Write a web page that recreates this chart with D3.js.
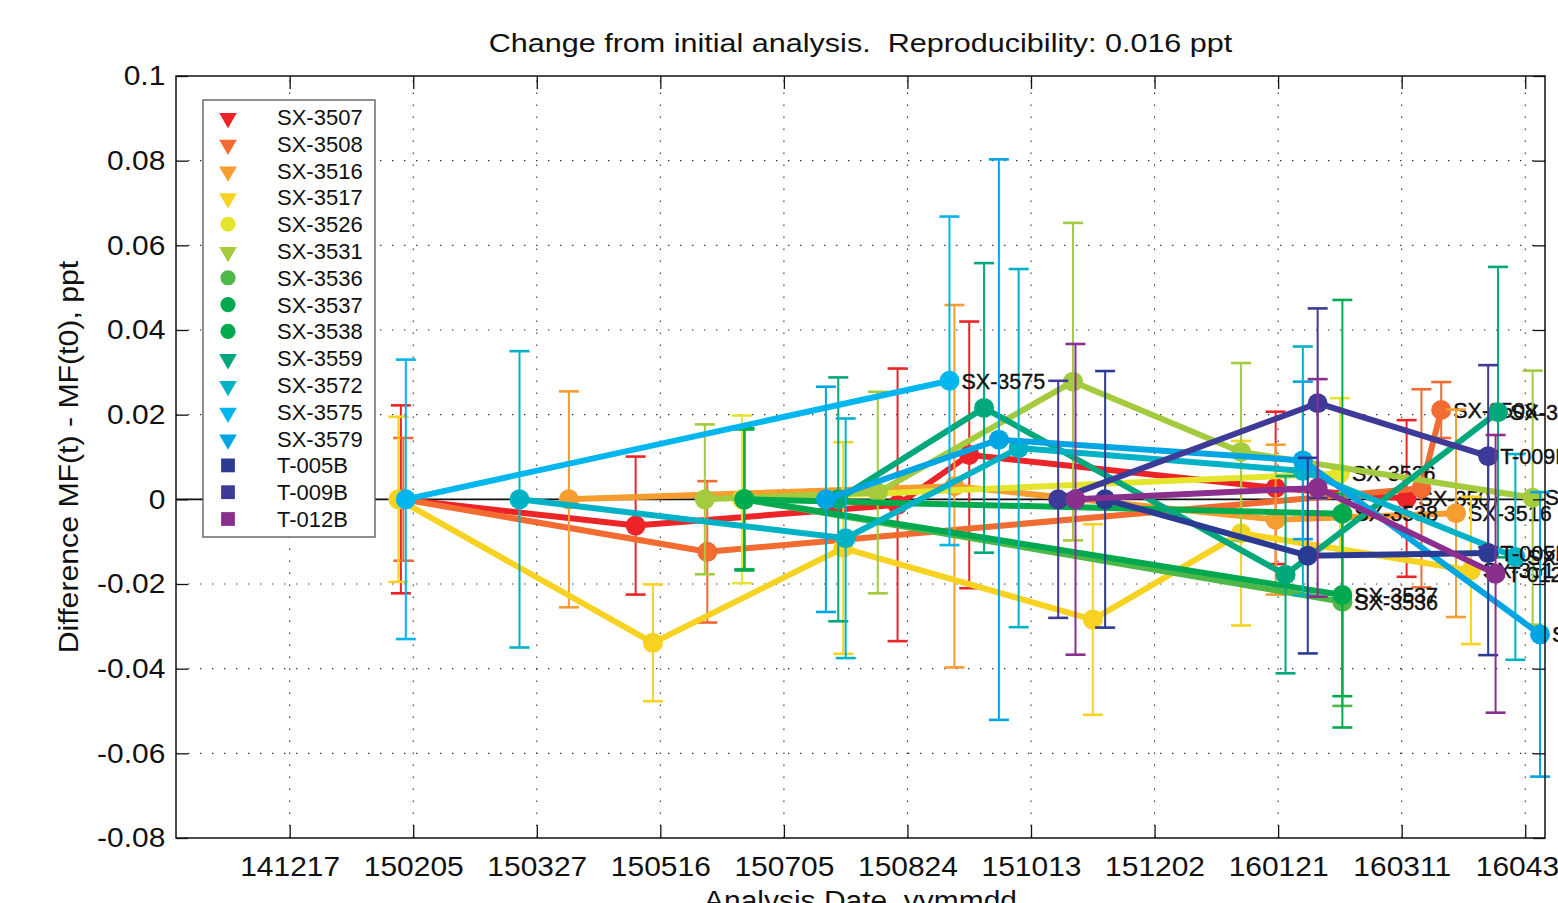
<!DOCTYPE html>
<html>
<head>
<meta charset="utf-8">
<script src="https://cdn.jsdelivr.net/npm/d3@7"></script>
<style>
  body { margin: 0; background: #fff; }
  svg { display: block; }
  text { font-family: "Liberation Sans", Arial, Helvetica, sans-serif; }
</style>
</head>
<body>
<svg id="chart" width="1558" height="903"></svg>
<script>
// ---- data ----
const seriesNames = ["SX-3507","SX-3508","SX-3516","SX-3517","SX-3526","SX-3531","SX-3536","SX-3537",
                     "SX-3538","SX-3559","SX-3572","SX-3575","SX-3579","T-005B","T-009B","T-012B"];
const seriesColors = ["#ED2427","#F26B31","#F59D2E","#F8D221","#E6E52D","#A4CB3D","#4DB848","#00A94F",
                      "#00AB4E","#00A87B","#00B2C6","#00B6EE","#00A5E4","#2B3B94","#3E3B98","#8B2F8F"];
const legendSymbols = ["tri","tri","tri","tri","circle","tri","circle","circle",
                       "circle","tri","tri","tri","tri","square","square","square"];

// analysis dates (yymmdd) per sample
const seriesDates = [
  ["150131","150506","150820","150918","160120","160313"],
  ["150201","150604","160319","160327"],
  ["150409","150912","160120","160402"],
  ["150130","150513","150729","151107","160106","160408"],
  ["150618","160215"],
  ["150603","150812","151030","160106","160503"],
  ["150619","160216"],
  ["150619","160216"],
  ["150619","160216"],
  ["150727","150924","160124","160419"],
  ["150320","150730","151008","160131","160426"],
  ["150202","150910"],
  ["150722","150930","160131","160506"],
  ["151112","160202","160415"],
  ["151024","160206","160415"],
  ["151031","160206","160418"]
];
// MF(t) - MF(t0), ppt
const seriesValues = [
  [0, -0.0062, -0.0013, 0.0105, 0.0027, 0.0002],
  [0, -0.0124, 0.0026, 0.0211],
  [0, 0.0031, -0.0048, -0.0033],
  [0, -0.0339, -0.0115, -0.0284, -0.0080, -0.0168],
  [0, 0.0061],
  [0, 0.0016, 0.0278, 0.0112, 0.0004],
  [0, -0.0242],
  [0, -0.0226],
  [0, -0.0034],
  [0, 0.0216, -0.0178, 0.0206],
  [0, -0.0092, 0.0121, 0.0067, -0.0136],
  [0, 0.0280],
  [0, 0.0141, 0.0092, -0.0319],
  [0, -0.0133, -0.0127],
  [0, 0.0227, 0.0102],
  [0, 0.0027, -0.0176]
];
// error bar half-widths, ppt
const seriesErrors = [
  [0.0222, 0.0163, 0.0322, 0.0315, 0.0180, 0.0185],
  [0.0145, 0.0167, 0.0234, 0.0066],
  [0.0255, 0.0428, 0.0177, 0.0245],
  [0.0195, 0.0138, 0.0250, 0.0225, 0.0218, 0.0174],
  [0.0198, 0.0178],
  [0.0177, 0.0238, 0.0375, 0.0210, 0.0300],
  [0.0165, 0.0246],
  [0.0168, 0.0239],
  [0.0166, 0.0505],
  [0.0288, 0.0342, 0.0233, 0.0343],
  [0.0350, 0.0283, 0.0423, 0.0294, 0.0243],
  [0.0330, 0.0388],
  [0.0266, 0.0662, 0.0186, 0.0336],
  [0.0303, 0.0231, 0.0241],
  [0.0280, 0.0224, 0.0215],
  [0.0367, 0.0257, 0.0328]
];

const xDomain = ["141101", "160508"];
const xTickLabels = ["141217","150205","150327","150516","150705","150824","151013","151202","160121","160311","160430"];
const yDomain = [-0.08, 0.1];
const yTickValues = [0.1, 0.08, 0.06, 0.04, 0.02, 0, -0.02, -0.04, -0.06, -0.08];
const yTickLabels = ["0.1","0.08","0.06","0.04","0.02","0","-0.02","-0.04","-0.06","-0.08"];

const titleText = "Change from initial analysis.  Reproducibility: 0.016 ppt";
const xLabelText = "Analysis Date, yymmdd";
const yLabelText = "Difference MF(t) - MF(t0), ppt";

// ---- layout ----
const plot = { left: 176, right: 1545, top: 76, bottom: 838 };
const parse = d3.timeParse("%y%m%d");
const x = d3.scaleTime().domain(xDomain.map(parse)).range([plot.left, plot.right]);
const y = d3.scaleLinear().domain(yDomain).range([plot.bottom, plot.top]);

const svg = d3.select("#chart");
svg.append("rect").attr("width", 1558).attr("height", 903).attr("fill", "#fff");

// dotted grid
const grid = svg.append("g").attr("stroke", "#333").attr("stroke-width", 1.1)
  .attr("stroke-dasharray", "1.4,10.6");
grid.selectAll("line.gx").data(xTickLabels).join("line")
  .attr("x1", d => x(parse(d))).attr("x2", d => x(parse(d)))
  .attr("y1", plot.bottom).attr("y2", plot.top);
grid.selectAll("line.gy").data(yTickValues.filter(v => v > yDomain[0] && v < yDomain[1])).join("line")
  .attr("x1", plot.left).attr("x2", plot.right)
  .attr("y1", d => y(d)).attr("y2", d => y(d));

// zero reference line
svg.append("line")
  .attr("x1", plot.left).attr("x2", plot.right)
  .attr("y1", y(0)).attr("y2", y(0))
  .attr("stroke", "#111").attr("stroke-width", 1.6);

// series: error bars, connecting line, markers, end label
const line = d3.line().x(d => x(d.date)).y(d => y(d.value));
seriesNames.forEach((name, i) => {
  const pts = seriesDates[i].map((d, j) => ({
    date: parse(d), value: seriesValues[i][j], err: seriesErrors[i][j]
  }));
  const color = seriesColors[i];
  const g = svg.append("g");

  const eb = g.append("g").attr("stroke", color).attr("stroke-width", 2);
  pts.forEach(p => {
    const px = x(p.date);
    eb.append("line").attr("x1", px).attr("x2", px)
      .attr("y1", y(p.value - p.err)).attr("y2", y(p.value + p.err));
    eb.append("line").attr("x1", px - 10).attr("x2", px + 10)
      .attr("y1", y(p.value + p.err)).attr("y2", y(p.value + p.err)).attr("stroke-width", 2.6);
    eb.append("line").attr("x1", px - 10).attr("x2", px + 10)
      .attr("y1", y(p.value - p.err)).attr("y2", y(p.value - p.err)).attr("stroke-width", 2.6);
  });

  g.append("path").datum(pts).attr("d", line)
    .attr("fill", "none").attr("stroke", color).attr("stroke-width", 6)
    .attr("stroke-linejoin", "round");

  g.selectAll("circle").data(pts).join("circle")
    .attr("cx", d => x(d.date)).attr("cy", d => y(d.value)).attr("r", 10)
    .attr("fill", color);

  const last = pts[pts.length - 1];
  g.append("text")
    .attr("x", x(last.date) + 12).attr("y", y(last.value))
    .attr("dy", "0.36em")
    .attr("font-size", 21.5).attr("fill", "#111")
    .attr("stroke", "#111").attr("stroke-width", 0.4)
    .text(name);
});

// frame
svg.append("rect")
  .attr("x", plot.left).attr("y", plot.top)
  .attr("width", plot.right - plot.left).attr("height", plot.bottom - plot.top)
  .attr("fill", "none").attr("stroke", "#111").attr("stroke-width", 1.5);

// axes (ticks point inward)
const xTicks = xTickLabels.map(parse);
const axisBottom = svg.append("g").attr("transform", `translate(0,${plot.bottom})`)
  .call(d3.axisBottom(x).tickValues(xTicks).tickFormat((d, i) => xTickLabels[i])
    .tickSizeInner(-13).tickSizeOuter(0).tickPadding(18));
const axisTop = svg.append("g").attr("transform", `translate(0,${plot.top})`)
  .call(d3.axisTop(x).tickValues(xTicks).tickFormat(() => "")
    .tickSizeInner(-13).tickSizeOuter(0));
const axisLeft = svg.append("g").attr("transform", `translate(${plot.left},0)`)
  .call(d3.axisLeft(y).tickValues(yTickValues).tickFormat((d, i) => yTickLabels[i])
    .tickSizeInner(-12).tickSizeOuter(0).tickPadding(10));
const axisRight = svg.append("g").attr("transform", `translate(${plot.right},0)`)
  .call(d3.axisRight(y).tickValues(yTickValues).tickFormat(() => "")
    .tickSizeInner(-12).tickSizeOuter(0));

[axisBottom, axisTop, axisLeft, axisRight].forEach(a => {
  a.select(".domain").remove();
  a.selectAll(".tick line").attr("stroke", "#111").attr("stroke-width", 1.3);
  a.selectAll("text").attr("font-size", 28).attr("fill", "#111")
    .attr("font-family", "'Liberation Sans', Arial, Helvetica, sans-serif");
});
axisBottom.selectAll("text").attr("transform", "scale(1.07,1)");
axisLeft.selectAll("text").attr("transform", "scale(1.07,1)");

// title and axis labels
svg.append("text")
  .attr("transform", `translate(${(plot.left + plot.right) / 2},52) scale(1.175,1)`)
  .attr("text-anchor", "middle").attr("font-size", 26).attr("fill", "#111")
  .style("white-space", "pre")
  .text(titleText);

svg.append("text")
  .attr("transform", `translate(${(plot.left + plot.right) / 2},910) scale(1.07,1)`)
  .attr("text-anchor", "middle").attr("font-size", 28).attr("fill", "#111")
  .text(xLabelText);

svg.append("text")
  .attr("transform", `translate(78,${(plot.top + plot.bottom) / 2}) rotate(-90) scale(1.08,1)`)
  .attr("text-anchor", "middle").attr("font-size", 28).attr("fill", "#111")
  .text(yLabelText);

// legend
const legend = svg.append("g");
legend.append("rect")
  .attr("x", 203).attr("y", 100).attr("width", 172).attr("height", 437)
  .attr("fill", "#fff").attr("stroke", "#555").attr("stroke-width", 1.3);
const symbolOf = {
  tri: d3.symbol(d3.symbolTriangle, 135),
  circle: d3.symbol(d3.symbolCircle, 180),
  square: d3.symbol(d3.symbolSquare, 190)
};
seriesNames.forEach((name, i) => {
  const ry = 117 + i * 26.8;
  const kind = legendSymbols[i];
  legend.append("path")
    .attr("d", symbolOf[kind]())
    .attr("transform", kind === "tri" ? `translate(228,${ry + 1}) rotate(180)` : `translate(228,${ry})`)
    .attr("fill", seriesColors[i]);
  legend.append("text")
    .attr("x", 277).attr("y", ry).attr("dy", "0.36em")
    .attr("font-size", 22).attr("fill", "#111")
    .text(name);
});
</script>
</body>
</html>
